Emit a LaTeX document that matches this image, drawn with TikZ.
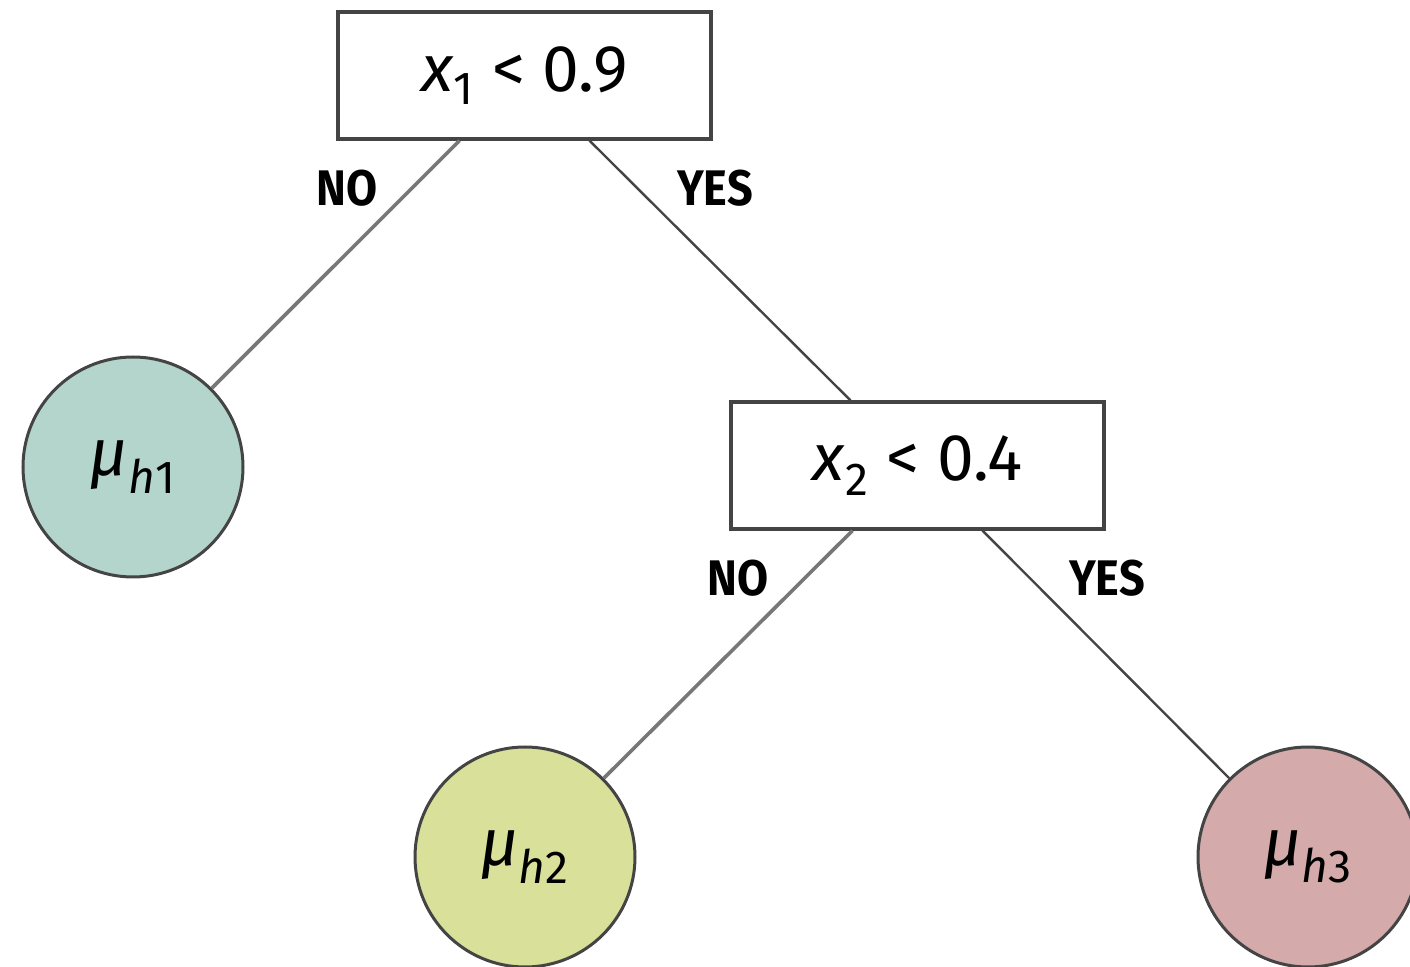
\documentclass[tikz,border=0pt]{standalone}
\usepackage{fontspec}
\setmainfont{Fira Sans}
\usetikzlibrary{calc}
\definecolor{tealc}{HTML}{B3D5CC}
\definecolor{limec}{HTML}{D9E09A}
\definecolor{rosec}{HTML}{D4AAAA}
\definecolor{edgedark}{HTML}{444444}
\definecolor{edgegray}{HTML}{777777}
\tikzset{
  test/.style={draw=edgedark, line width=1.6pt, fill=white, minimum width=186.5pt, minimum height=63.5pt, inner sep=0pt, font=\fontsize{33}{36}\selectfont},
  leaf/.style={circle, draw=edgedark, line width=1.5pt, minimum size=110pt, inner sep=0pt, font=\fontsize{33}{36}\selectfont},
  lab/.style={font=\bfseries\fontsize{25}{27}\selectfont, inner sep=0pt},
  nobranch/.style={draw=edgegray, line width=1.8pt},
  yesbranch/.style={draw=edgedark, line width=1.2pt},
}
\newcommand{\cond}{\scalebox{0.9}[1]}
\begin{document}
\begin{tikzpicture}[x=0.5pt,y=-0.5pt]
\useasboundingbox (0,0) rectangle (1410,967);
\node[test] (root) at (524.5,75.5) {\textit{x}\textsubscript{1} < 0.9};
\node[test] (t2) at (917.5,465.5) {\textit{x}\textsubscript{2} < 0.4};
\node[leaf, fill=tealc] (h1) at (133,467) {\textit{μ}\textsubscript{\textit{h}1}};
\node[leaf, fill=limec] (h2) at (525,857) {\textit{μ}\textsubscript{\textit{h}2}};
\node[leaf, fill=rosec] (h3) at (1308,857) {\textit{μ}\textsubscript{\textit{h}3}};
\draw[nobranch] ($(root.south)+(-65,0)$) -- (h1.45);
\draw[yesbranch] ($(root.south)+(65,0)$) -- ($(t2.north)+(-67,0)$);
\draw[nobranch] ($(t2.south)+(-65,0)$) -- (h2.45);
\draw[yesbranch] ($(t2.south)+(65,0)$) -- (h3.135);
\node[lab] (l1) at (347,188) {\cond{NO}};
\node[lab] (l2) at (715,188) {\cond{YES}};
\node[lab] (l3) at (738,578) {\cond{NO}};
\node[lab] (l4) at (1107,578) {\cond{YES}};
\end{tikzpicture}
\end{document}
